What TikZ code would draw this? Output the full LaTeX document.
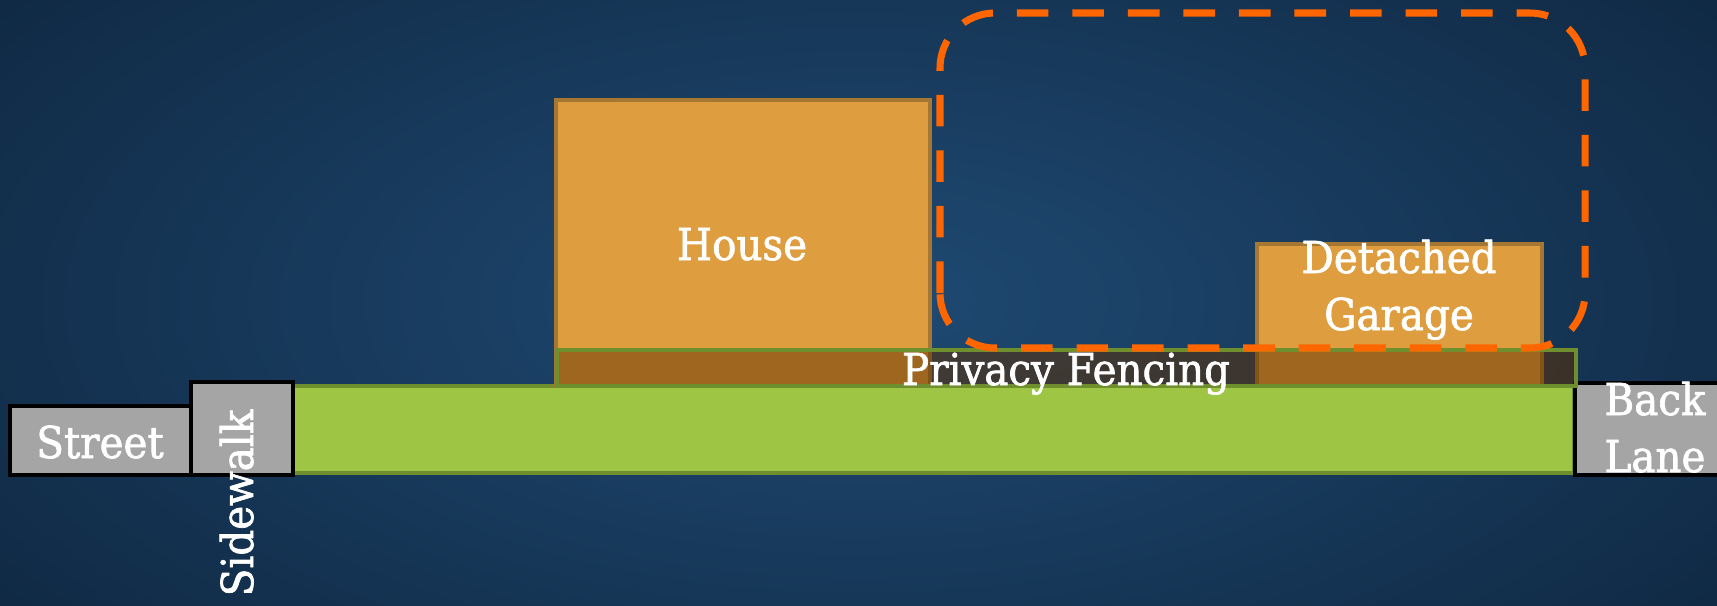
\documentclass[tikz,border=0pt]{standalone}
\usepackage{fontspec}
\setmainfont{DejaVu Serif}[FakeStretch=0.92, FakeBold=1.5]
\definecolor{bginner}{HTML}{1F4A73}
\definecolor{bgouter}{HTML}{102A45}
\definecolor{houseorange}{HTML}{DE9D3F}
\definecolor{houseedge}{HTML}{A57733}
\definecolor{lotgreen}{HTML}{9FC544}
\definecolor{lotedge}{HTML}{6F8F2F}
\definecolor{fencebrown}{HTML}{613000}
\definecolor{pavinggray}{HTML}{A5A5A5}
\definecolor{zoneorange}{HTML}{FF6600}
\tikzset{
  paving/.style={fill=pavinggray, draw=black, line width=1.1pt},
  building/.style={fill=houseorange, draw=houseedge, line width=0.9pt},
  lot/.style={fill=lotgreen, draw=lotedge, line width=0.9pt},
  fence/.style={fill=fencebrown, fill opacity=0.5, draw=lotedge, draw opacity=1, line width=0.9pt},
  zone/.style={draw=zoneorange, line width=2pt, dash pattern=on 9pt off 6.8pt, rounded corners=0.55cm},
  label text/.style={text=white, font=\fontsize{12.5}{16}\selectfont, inner sep=0pt, anchor=base}
}
\begin{document}
\begin{tikzpicture}
\useasboundingbox (0,0) rectangle (17.17,6.05);
\clip (0,0) rectangle (17.17,6.05);
\shade[inner color=bginner, outer color=bgouter] (-2,-2) rectangle (19.17,8.05);

\draw[lot] (2.93,1.32) rectangle (15.74,2.19);
\foreach \xa/\ya/\xb/\yb in {0.10/1.30/1.91/1.99, 1.91/1.30/2.93/2.23, 15.75/1.30/17.40/2.22}
  \draw[paving] (\xa,\ya) rectangle (\xb,\yb);

\foreach \xa/\ya/\xb/\yb in {5.56/2.19/9.30/5.05, 12.57/2.19/15.42/3.61}
  \draw[building] (\xa,\ya) rectangle (\xb,\yb);
\draw[fence] (5.57,2.19) rectangle (15.76,2.55);

\draw[zone] (9.40,2.57) rectangle (15.85,5.92);

\node[label text] (street) at (1.00,1.47) {Street};
\node[label text, rotate=90] (sidewalk) at (2.53,1.02) {Sidewalk};
\node[label text] (house) at (7.42,3.45) {House};
\node[label text] (detached) at (13.99,3.32) {Detached};
\node[label text] (garage) at (13.99,2.75) {Garage};
\node[label text] (fencing) at (10.66,2.20) {Privacy Fencing};
\node[label text] (back) at (16.55,1.90) {Back};
\node[label text] (lane) at (16.55,1.33) {Lane};
\end{tikzpicture}
\end{document}
